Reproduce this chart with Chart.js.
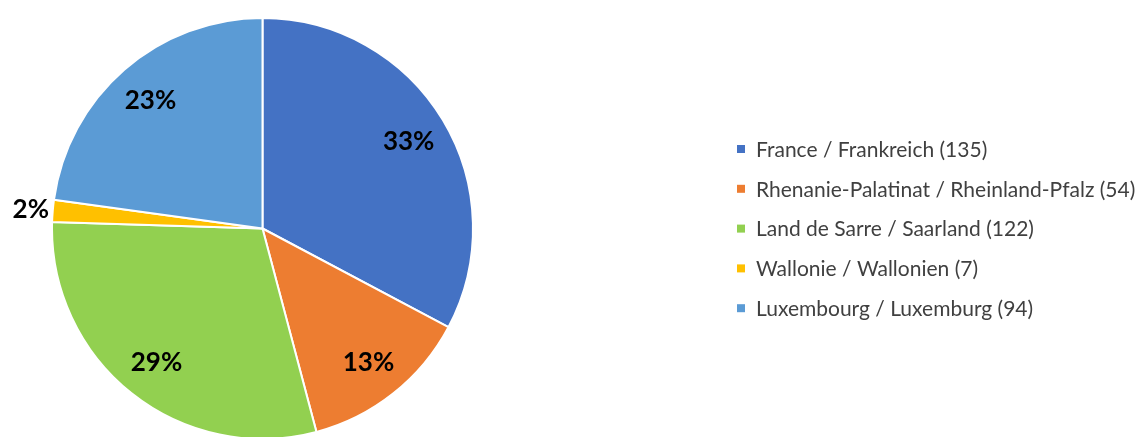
<!DOCTYPE html>
<html>
<head>
<meta charset="utf-8">
<script src="https://cdn.jsdelivr.net/npm/chart.js@4.4.1/dist/chart.umd.min.js"></script>
<style>
  html, body { margin: 0; padding: 0; background: #fff; overflow: hidden; }
  #wrap { width: 1140px; height: 440px; }
</style>
</head>
<body>
<div id="wrap"><canvas id="chart-area"></canvas></div>
<script>
	var regions = ['France / Frankreich (135)', 'Rhenanie-Palatinat / Rheinland-Pfalz (54)', 'Land de Sarre / Saarland (122)', 'Wallonie / Wallonien (7)', 'Luxembourg / Luxemburg (94)'];
	var counts = [135, 54, 122, 7, 94];
	var pctLabels = ['33%', '13%', '29%', '2%', '23%'];
	var sliceColors = ['#4472C4', '#ED7D31', '#92D050', '#FFC000', '#5B9BD5'];

	// percentage labels on the slices, small ones go outside
	var sliceLabels = {
		id: 'sliceLabels',
		afterDatasetsDraw: function(chart) {
			var ctx = chart.ctx;
			var meta = chart.getDatasetMeta(0);
			ctx.save();
			ctx.font = 'bold 26px Lato';
			ctx.fillStyle = '#000';
			ctx.textAlign = 'center';
			ctx.textBaseline = 'middle';
			meta.data.forEach(function(arc, i) {
				var p = arc.getProps(['x', 'y', 'startAngle', 'endAngle', 'outerRadius'], true);
				var mid = (p.startAngle + p.endAngle) / 2;
				var small = (p.endAngle - p.startAngle) < 0.2;
				var r = small ? p.outerRadius + 22 : p.outerRadius * 0.81;
				ctx.fillText(pctLabels[i], p.x + Math.cos(mid) * r, p.y + Math.sin(mid) * r + 1);
			});
			ctx.restore();
		}
	};

	// legend drawn at the right like the excel one
	var sideLegend = {
		id: 'sideLegend',
		afterDraw: function(chart) {
			var ctx = chart.ctx;
			var ds = chart.data.datasets[0];
			var x0 = 737, y0 = 149, step = 39.8;
			ctx.save();
			ctx.font = '21px Lato';
			ctx.textBaseline = 'middle';
			chart.data.labels.forEach(function(lbl, i) {
				var y = y0 + i * step;
				ctx.fillStyle = ds.backgroundColor[i];
				ctx.fillRect(x0, y - 4, 8, 8);
				ctx.fillStyle = '#404040';
				ctx.fillText(lbl, x0 + 19, y + 1);
			});
			ctx.restore();
		}
	};

	var config = {
		type: 'pie',
		data: {
			labels: regions,
			datasets: [{
				data: counts,
				backgroundColor: sliceColors,
				borderColor: '#ffffff',
				borderWidth: 2
			}]
		},
		options: {
			responsive: true,
			maintainAspectRatio: false,
			animation: false,
			layout: { padding: { left: 51, right: 666, top: 17, bottom: 0 } },
			plugins: {
				legend: { display: false },
				tooltip: { enabled: false }
			}
		},
		plugins: [sliceLabels, sideLegend]
	};

	var ctx = document.getElementById('chart-area').getContext('2d');
	window.myPie = new Chart(ctx, config);
</script>
</body>
</html>
